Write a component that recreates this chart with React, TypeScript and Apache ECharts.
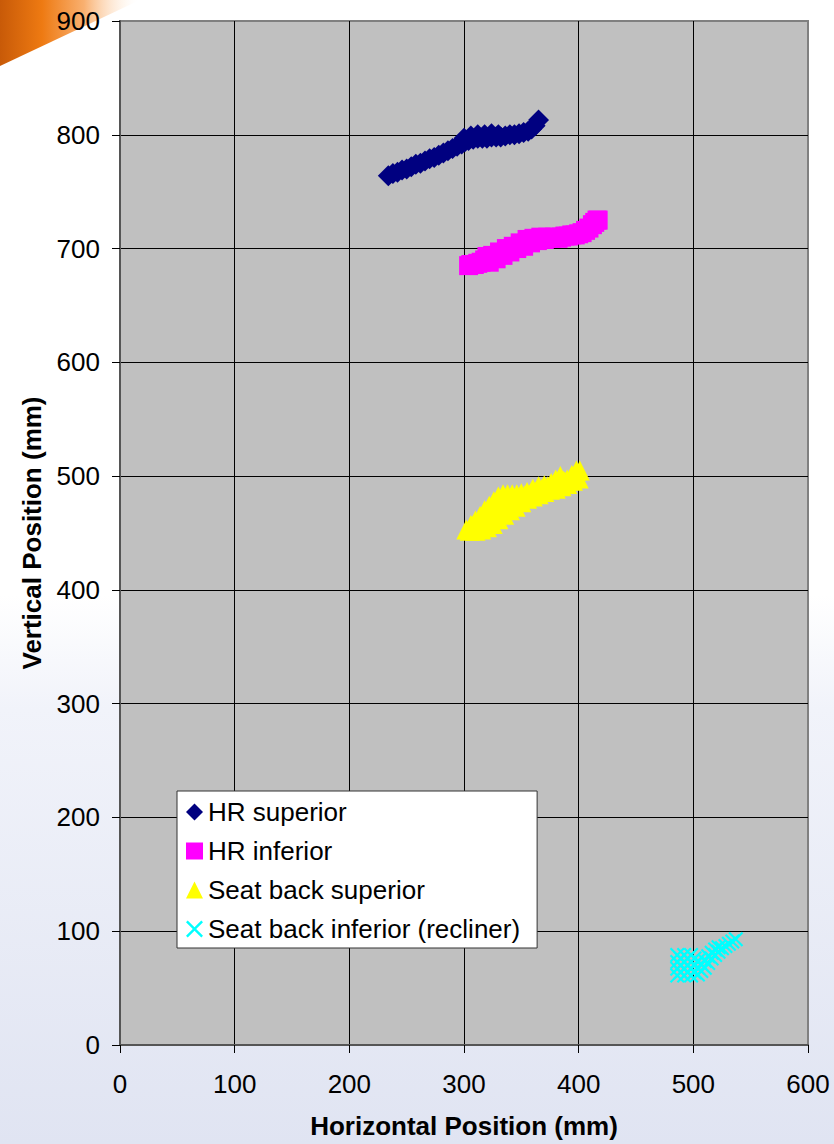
import React, { useEffect, useRef } from "react";
import * as echarts from "echarts";

const FONT = "'Liberation Sans', Arial, sans-serif";

const xTicks = [0, 100, 200, 300, 400, 500, 600];
const yTicks = [0, 100, 200, 300, 400, 500, 600, 700, 800, 900];

const seriesNames = [
  "HR superior",
  "HR inferior",
  "Seat back superior",
  "Seat back inferior (recliner)",
];

const hrSuperior = [
  [234, 764], [238, 766], [242, 767], [246, 769], [250, 770], [254, 772], [258, 774],
  [262, 775], [266, 777], [270, 779], [274, 780], [278, 782], [282, 784], [286, 786],
  [290, 788], [294, 790], [298, 792], [301, 794], [304, 795], [308, 796], [312, 797],
  [316, 797], [320, 797], [324, 798], [328, 798], [332, 798], [336, 799], [340, 800],
  [344, 800], [348, 801], [352, 802], [356, 803], [359, 805], [362, 808], [365, 813],
  [300, 797], [306, 799], [312, 800], [318, 800], [324, 801], [330, 800],
];

const hrInferior = [
  [304, 685], [306, 686], [309, 686], [312, 687], [315, 688], [318, 690], [320, 693],
  [322, 688], [325, 694], [328, 691], [331, 697], [334, 694], [337, 700], [340, 697],
  [343, 702], [346, 700], [349, 705], [352, 702], [355, 708], [358, 705], [361, 709],
  [364, 707], [367, 710], [370, 708], [373, 710], [376, 709], [379, 710], [382, 709],
  [385, 710], [388, 711], [391, 711], [394, 712], [397, 712], [400, 713], [403, 714],
  [406, 716], [409, 718], [412, 721], [414, 723], [416, 725], [417, 725],
];

const seatBackSuperior = [
  [302, 453], [306, 457], [310, 461], [314, 465], [318, 470], [322, 474], [326, 478],
  [330, 482], [334, 484], [338, 484], [342, 484], [346, 484], [350, 485], [355, 486],
  [360, 489], [365, 491], [370, 492], [376, 494], [380, 497], [384, 500], [387, 496],
  [390, 497], [394, 501], [398, 505], [401, 505],
  [308, 457], [313, 460], [318, 463], [323, 466], [328, 470], [333, 474], [338, 477],
  [343, 479], [348, 481], [353, 483], [358, 485], [363, 487], [368, 489], [373, 491],
  [378, 493], [383, 495], [388, 495], [393, 498], [398, 501],
  [305, 452], [310, 452], [315, 453], [320, 455], [325, 458], [330, 462], [335, 466],
  [340, 470], [345, 473], [350, 477], [355, 480], [360, 482], [365, 484], [370, 486],
  [375, 488], [380, 489], [385, 491], [390, 493], [395, 496], [400, 498],
];

const seatBackInferior = [
  [486, 61], [486, 67], [486, 73], [486, 79], [489, 64], [489, 70], [489, 76],
  [492, 61], [492, 67], [492, 73], [492, 79], [495, 64], [495, 70], [495, 76],
  [498, 61], [498, 67], [498, 73], [498, 79], [501, 64], [501, 70], [501, 76],
  [504, 62], [504, 68], [504, 74], [507, 65], [507, 71], [510, 68], [510, 74],
  [513, 72], [513, 78], [516, 76], [516, 81], [519, 79], [519, 84], [522, 82],
  [522, 86], [525, 85], [528, 87], [531, 89], [534, 91], [537, 93],
];

const XMARK =
  "path://M0,1L1,0L5,4L9,0L10,1L6,5L10,9L9,10L5,6L1,10L0,9L4,5Z";

export default function App() {
  const ref = useRef<HTMLDivElement>(null);

  useEffect(() => {
    document.body.style.margin = "0";
    const chart = echarts.init(ref.current!, null, { renderer: "svg" });
    const option: any = {
      animation: false,
      backgroundColor: "transparent",
      textStyle: { fontFamily: FONT },
      graphic: [
        {
          type: "polygon",
          silent: true,
          z: -10,
          shape: { points: [[0, 0], [140, 0], [0, 66]] },
          style: {
            fill: {
              type: "linear",
              x: 0, y: 0, x2: 1, y2: 0,
              colorStops: [
                { offset: 0, color: "#C85A08" },
                { offset: 0.3, color: "#EE7A12" },
                { offset: 0.6, color: "#F9B070" },
                { offset: 0.9, color: "rgba(255,240,225,0.4)" },
                { offset: 1, color: "rgba(255,255,255,0)" },
              ],
            },
          },
        },
      ],
      grid: {
        left: 120,
        top: 21,
        width: 688,
        height: 1024,
        show: true,
        backgroundColor: "#C0C0C0",
        borderColor: "#808080",
        borderWidth: 2,
      },
      legend: {
        orient: "vertical",
        left: 177,
        top: 791,
        padding: [8, 17, 6, 9],
        itemGap: 13,
        itemWidth: 17,
        itemHeight: 17,
        backgroundColor: "#FFFFFF",
        borderColor: "#333333",
        borderWidth: 1,
        textStyle: { fontFamily: FONT, fontSize: 26, color: "#000" },
        data: seriesNames,
      },
      xAxis: {
        type: "value",
        min: xTicks[0],
        max: xTicks[xTicks.length - 1],
        interval: 100,
        name: "Horizontal Position (mm)",
        nameLocation: "middle",
        nameGap: 68,
        nameTextStyle: { fontFamily: FONT, fontSize: 26, fontWeight: "bold", color: "#000" },
        axisLine: { show: true, onZero: false, lineStyle: { color: "#555", width: 2 } },
        axisTick: { show: true, inside: false, length: 8, lineStyle: { color: "#000", width: 1 } },
        axisLabel: { margin: 26, fontFamily: FONT, fontSize: 26, color: "#000" },
        splitLine: {
          show: true,
          showMinLine: false,
          showMaxLine: false,
          lineStyle: { color: "#000", width: 1 },
        },
      },
      yAxis: {
        type: "value",
        min: yTicks[0],
        max: yTicks[yTicks.length - 1],
        interval: 100,
        name: "Vertical Position (mm)",
        nameLocation: "middle",
        nameGap: 75,
        nameTextStyle: { fontFamily: FONT, fontSize: 26, fontWeight: "bold", color: "#000" },
        axisLine: { show: true, onZero: false, lineStyle: { color: "#555", width: 2 } },
        axisTick: { show: true, inside: false, length: 8, lineStyle: { color: "#000", width: 1 } },
        axisLabel: { margin: 20, fontFamily: FONT, fontSize: 26, color: "#000" },
        splitLine: {
          show: true,
          showMinLine: false,
          showMaxLine: false,
          lineStyle: { color: "#000", width: 1 },
        },
      },
      series: [
        {
          name: seriesNames[0],
          type: "scatter",
          symbol: "diamond",
          symbolSize: 21,
          itemStyle: { color: "#000080", opacity: 1 },
          data: hrSuperior,
        },
        {
          name: seriesNames[1],
          type: "scatter",
          symbol: "rect",
          symbolSize: 19,
          itemStyle: { color: "#FF00FF", opacity: 1 },
          data: hrInferior,
        },
        {
          name: seriesNames[2],
          type: "scatter",
          symbol: "triangle",
          symbolSize: 20,
          itemStyle: { color: "#FFFF00", opacity: 1 },
          data: seatBackSuperior,
        },
        {
          name: seriesNames[3],
          type: "scatter",
          symbol: XMARK,
          symbolSize: 15,
          itemStyle: { color: "#00FFFF", opacity: 1 },
          data: seatBackInferior,
        },
      ],
    };
    chart.setOption(option);
    return () => chart.dispose();
  }, []);

  return (
    <div
      style={{
        position: "absolute",
        left: 0,
        top: 0,
        width: 834,
        height: 1144,
        background:
          "linear-gradient(to bottom, #FFFFFF 0%, #FFFFFF 52%, #F1F3FA 62%, #E0E4F2 100%)",
      }}
    >
      <div ref={ref} style={{ width: 834, height: 1144 }} />
    </div>
  );
}
